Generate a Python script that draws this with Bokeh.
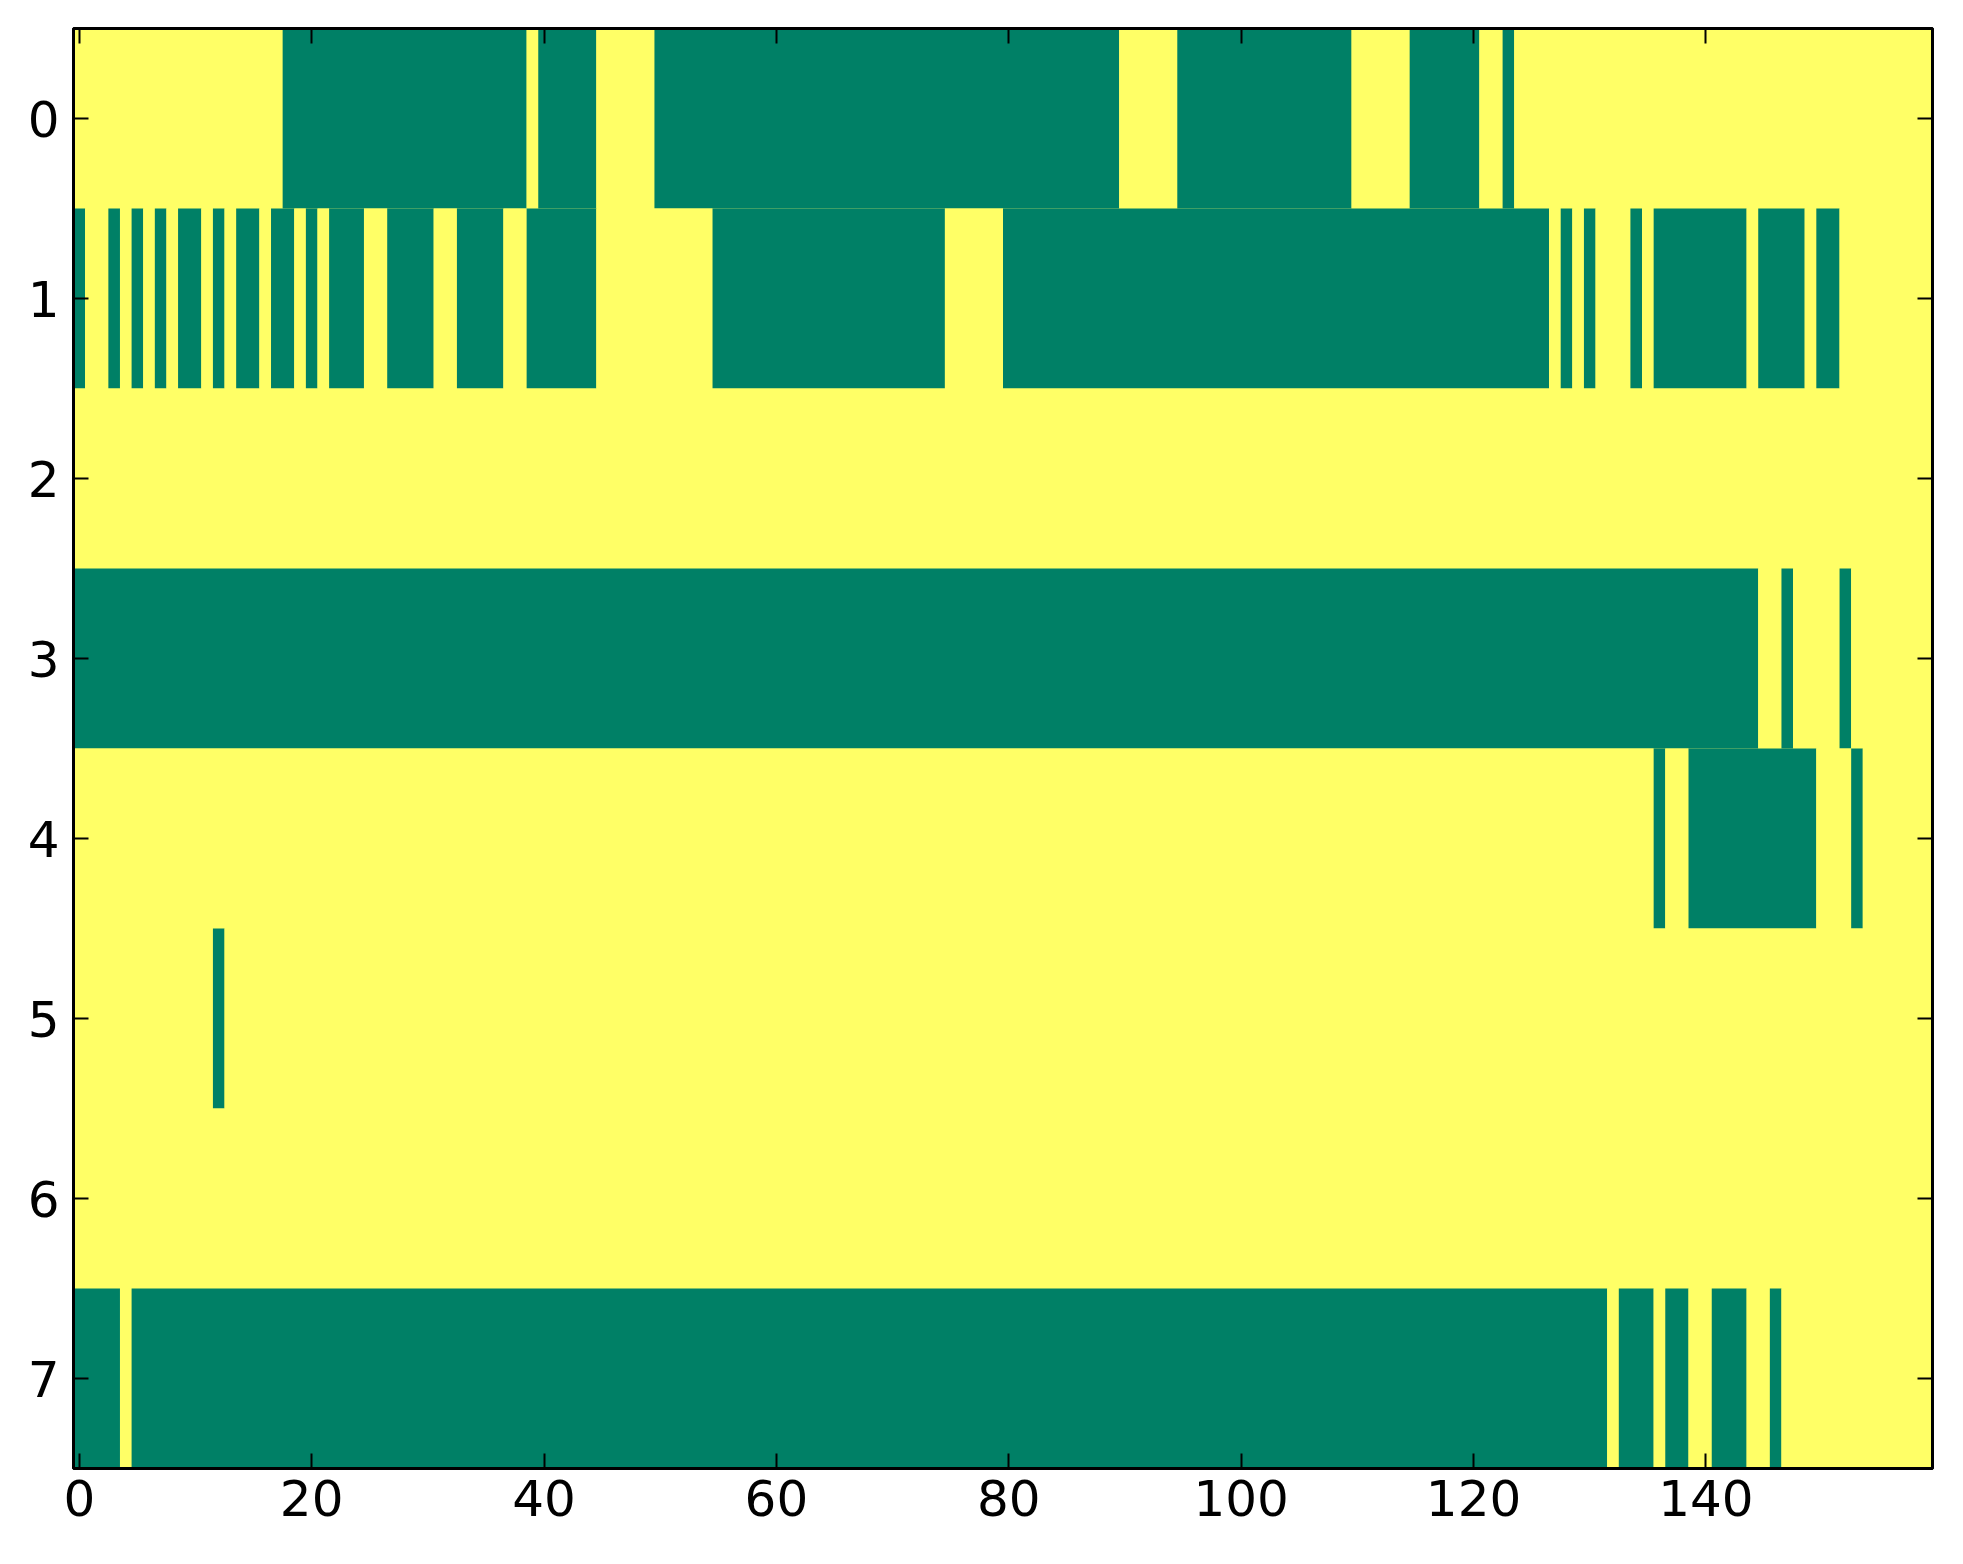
import numpy as np
from bokeh.plotting import figure
from bokeh.models import Range1d, LinearAxis, FixedTicker, ColumnDataSource
from bokeh.embed import file_html
from bokeh.resources import INLINE

# ---- data: 8 rows x 160 columns binary matrix; runs of "green" (value 0) cells, inclusive ----
n_rows = 8
n_cols = 160
row0_green = [(18, 38), (40, 44), (50, 89), (95, 109), (115, 120), (123, 123)]
row1_green = [(0, 0), (3, 3), (5, 5), (7, 7), (9, 10), (12, 12), (14, 15), (17, 18),
              (20, 20), (22, 24), (27, 30), (33, 36), (39, 44), (55, 74), (80, 126),
              (128, 128), (130, 130), (134, 134), (136, 143), (145, 148), (150, 151)]
row2_green = []
row3_green = [(0, 144), (147, 147), (152, 152)]
row4_green = [(136, 136), (139, 149), (153, 153)]
row5_green = [(12, 12)]
row6_green = []
row7_green = [(0, 3), (5, 131), (133, 135), (137, 138), (141, 143), (146, 146)]

x_ticks = [0, 20, 40, 60, 80, 100, 120, 140]
y_ticks = [0, 1, 2, 3, 4, 5, 6, 7]

GREEN = "#008066"   # summer colormap low end
YELLOW = "#ffff66"  # summer colormap high end

all_rows = [row0_green, row1_green, row2_green, row3_green,
            row4_green, row5_green, row6_green, row7_green]

# Build matrix: 0 = green, 1 = yellow
M = np.ones((n_rows, n_cols), dtype=int)
for r, runs in enumerate(all_rows):
    for a, b in runs:
        M[r, a:b + 1] = 0

# Convert matrix into horizontal runs of equal value (cells in data units)
left, right, top, bottom, color = [], [], [], [], []
for r in range(n_rows):
    c = 0
    while c < n_cols:
        v = M[r, c]
        e = c
        while e + 1 < n_cols and M[r, e + 1] == v:
            e += 1
        left.append(c - 0.5)
        right.append(e + 0.5)
        top.append(r - 0.5)
        bottom.append(r + 0.5)
        color.append(GREEN if v == 0 else YELLOW)
        c = e + 1

src = ColumnDataSource(dict(left=left, right=right, top=top, bottom=bottom, color=color))

p = figure(x_range=Range1d(-0.5, n_cols - 0.5), y_range=Range1d(n_rows - 0.5, -0.5),
           frame_width=1859, frame_height=1440,
           min_border_left=73, min_border_top=28, min_border_right=20, min_border_bottom=80,
           output_backend="svg", toolbar_location=None)

p.quad(left="left", right="right", top="top", bottom="bottom", fill_color="color",
       line_color=None, source=src)

p.background_fill_color = YELLOW
p.xgrid.visible = False
p.ygrid.visible = False
p.outline_line_color = "black"
p.outline_line_width = 3

FONT = "DejaVu Sans"

def style_axis(ax, ticks, show_labels, standoff):
    ax.axis_line_width = 3
    ax.axis_line_color = "black"
    ax.major_tick_in = 15
    ax.major_tick_out = 0
    ax.major_tick_line_width = 2
    ax.minor_tick_in = 0
    ax.minor_tick_out = 0
    ax.major_label_text_font = FONT
    ax.major_label_text_color = "black"
    if show_labels:
        ax.major_label_text_font_size = "50px"
        ax.major_label_standoff = standoff
    else:
        ax.major_label_overrides = {t: "" for t in ticks}
        ax.major_label_text_font_size = "1px"
        ax.major_label_standoff = 0

p.xaxis.ticker = FixedTicker(ticks=x_ticks)
p.yaxis.ticker = FixedTicker(ticks=y_ticks)
style_axis(p.xaxis[0], x_ticks, True, 11)
style_axis(p.yaxis[0], y_ticks, True, 14)

top_axis = LinearAxis(ticker=FixedTicker(ticks=x_ticks))
style_axis(top_axis, x_ticks, False, 0)
p.add_layout(top_axis, "above")

right_axis = LinearAxis(ticker=FixedTicker(ticks=y_ticks))
style_axis(right_axis, y_ticks, False, 0)
p.add_layout(right_axis, "right")

open("out.html", "w").write(file_html(p, INLINE))
